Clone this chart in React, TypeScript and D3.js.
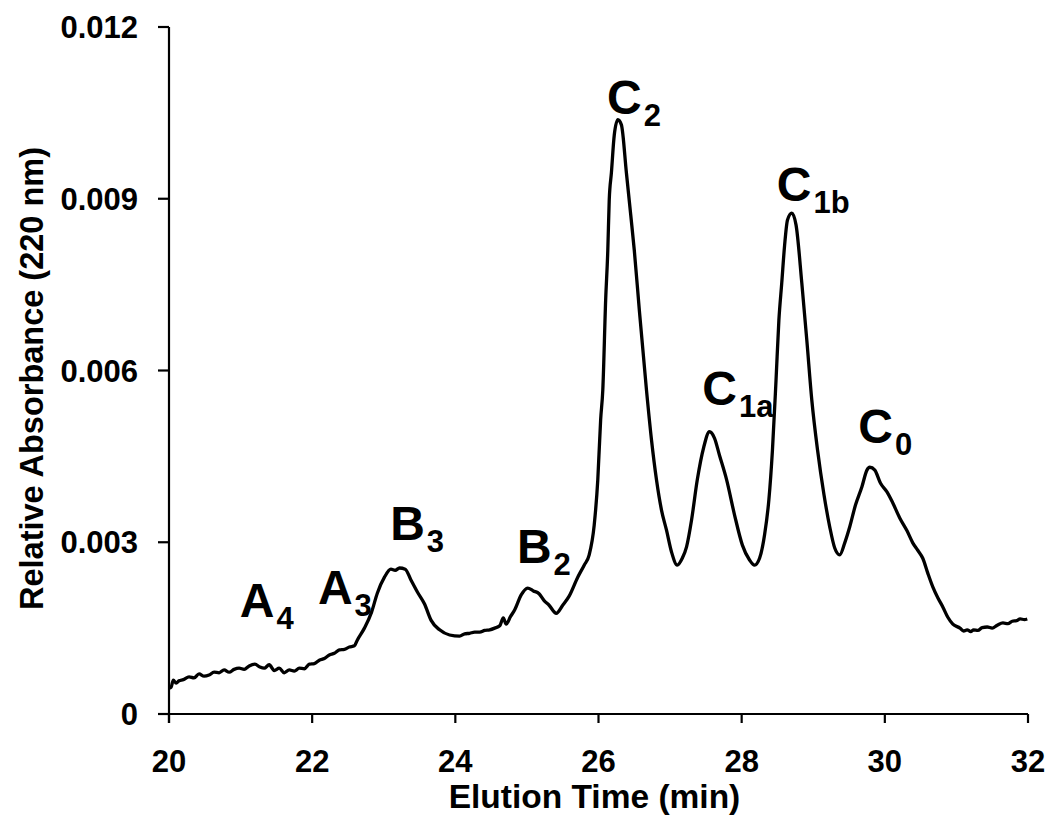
import React from "react";
import * as d3 from "d3";

const elutionTime = [
  20.0, 20.03, 20.06, 20.1, 20.14, 20.2, 20.28, 20.35, 20.42, 20.49, 20.56, 20.63, 20.7, 20.77, 20.84, 20.91,
  20.98, 21.05, 21.12, 21.2, 21.27, 21.33, 21.4, 21.47, 21.54, 21.61, 21.68, 21.75, 21.82, 21.89, 21.96,
  22.03, 22.1, 22.17, 22.24, 22.31, 22.38, 22.45, 22.52, 22.59, 22.63, 22.73, 22.83, 22.91, 23.01, 23.1,
  23.16, 23.22, 23.3, 23.38, 23.47, 23.57, 23.66, 23.78, 23.92, 24.06, 24.13, 24.2, 24.27, 24.34, 24.41,
  24.48, 24.55, 24.62, 24.67, 24.71, 24.77, 24.83, 24.92, 25.01, 25.09, 25.17, 25.24, 25.31, 25.41, 25.5,
  25.59, 25.71, 25.8, 25.87, 25.94, 25.99, 26.03, 26.06, 26.1, 26.13, 26.15, 26.18, 26.22, 26.27, 26.32,
  26.39, 26.45, 26.5, 26.57, 26.67, 26.74, 26.81, 26.88, 26.95, 27.02, 27.1, 27.17, 27.23, 27.3, 27.38,
  27.47, 27.55, 27.62, 27.69, 27.79, 27.9, 28.01, 28.11, 28.18, 28.25, 28.32, 28.38, 28.43, 28.48, 28.52,
  28.56, 28.6, 28.64, 28.7, 28.76, 28.84, 28.91, 28.98, 29.06, 29.15, 29.23, 29.3, 29.37, 29.44, 29.51,
  29.59, 29.68, 29.75, 29.79, 29.86, 29.94, 30.03, 30.11, 30.21, 30.31, 30.39, 30.46, 30.53, 30.6, 30.67,
  30.74, 30.81, 30.88, 30.95, 31.05, 31.1, 31.15, 31.2, 31.24, 31.3, 31.36, 31.43, 31.5, 31.57, 31.65,
  31.72, 31.78, 31.84, 31.89, 31.95, 31.99,
];

const absorbance = [
  0.00045, 0.00047, 0.00059, 0.00054, 0.00058, 0.0006, 0.00065, 0.00063, 0.0007, 0.00066, 0.00068, 0.00073, 0.00072, 0.00077, 0.00073, 0.00078,
  0.0008, 0.00078, 0.00084, 0.00087, 0.00082, 0.0008, 0.00086, 0.00076, 0.0008, 0.00072, 0.00077, 0.00075, 0.0008, 0.00079, 0.00087,
  0.00088, 0.00094, 0.00097, 0.00103, 0.00106, 0.00112, 0.00113, 0.00117, 0.00119, 0.00129, 0.0015, 0.00178, 0.00211, 0.00239, 0.00253,
  0.00251, 0.00255, 0.00253, 0.00234, 0.00213, 0.00192, 0.00164, 0.00147, 0.00138, 0.00136, 0.0014, 0.00141, 0.00143, 0.00143, 0.00146,
  0.00147, 0.0015, 0.00154, 0.00168, 0.00157, 0.0017, 0.00182, 0.00208, 0.0022, 0.00215, 0.0021, 0.00198, 0.0019, 0.00176, 0.0019,
  0.00206, 0.00239, 0.0026, 0.00278, 0.0033, 0.00409, 0.00514, 0.00566, 0.00723, 0.0081, 0.00898, 0.00945, 0.01011, 0.01038, 0.01029,
  0.00945, 0.00872, 0.0081, 0.00706, 0.00566, 0.00479, 0.00409, 0.00356, 0.00321, 0.00283, 0.0026, 0.00272, 0.00292, 0.00339, 0.00409,
  0.00466, 0.00493, 0.00482, 0.00452, 0.00409, 0.00348, 0.00295, 0.00269, 0.0026, 0.00272, 0.00313, 0.00374, 0.00461, 0.00583, 0.00688,
  0.00753, 0.00819, 0.00863, 0.00875, 0.00854, 0.00753, 0.00653, 0.00548, 0.00461, 0.00383, 0.00327, 0.0029, 0.00278, 0.00299, 0.00327,
  0.00365, 0.00397, 0.00426, 0.00431, 0.00426, 0.00403, 0.00388, 0.00369, 0.00342, 0.0032, 0.00299, 0.00286, 0.00272, 0.00246, 0.00222,
  0.00203, 0.00187, 0.00169, 0.00157, 0.0015, 0.00145, 0.00147, 0.00144, 0.00147, 0.00146, 0.00151, 0.00152, 0.0015, 0.00155, 0.00159,
  0.00158, 0.00162, 0.00163, 0.00166, 0.00165, 0.00166,
];

const xTicks = [20, 22, 24, 26, 28, 30, 32];
const yTicks = [0, 0.003, 0.006, 0.009, 0.012];
const yTickLabels = ["0", "0.003", "0.006", "0.009", "0.012"];

const peakLetters = ["A", "A", "B", "B", "C", "C", "C", "C"];
const peakSubs = ["4", "3", "3", "2", "2", "1a", "1b", "0"];
const peakLabelTime = [20.99, 22.08, 23.09, 24.86, 26.12, 27.45, 28.49, 29.63];
const peakLabelAbs = [0.00169, 0.00192, 0.00304, 0.00264, 0.01048, 0.0054, 0.00896, 0.00473];

const xTitle = "Elution Time (min)";
const yTitle = "Relative Absorbance (220 nm)";

const FONT = "'Liberation Sans', Arial, Helvetica, sans-serif";

export default function App() {
  const x = d3.scaleLinear().domain([20, 32]).range([169, 1028]);
  const y = d3.scaleLinear().domain([0, 0.012]).range([714, 27]);

  const pts: [number, number][] = elutionTime.map((t, i) => [t, absorbance[i]]);
  const line = d3
    .line<[number, number]>()
    .x((d) => x(d[0]))
    .y((d) => y(d[1]))
    .curve(d3.curveMonotoneX);

  const x0 = x(20);
  const y0 = y(0);

  return (
    <svg
      width={1051}
      height={819}
      style={{ position: "absolute", left: 0, top: 0, background: "#fff" }}
      fontFamily={FONT}
      fontWeight="bold"
    >
      <rect width={1051} height={819} fill="#fff" />
      {/* axes */}
      <line x1={x0} x2={x0} y1={y(0.012)} y2={y0 + 9} stroke="#000" strokeWidth={2.2} />
      <line x1={x0} x2={x(32)} y1={y0} y2={y0} stroke="#000" strokeWidth={2.2} />
      {yTicks.map((v, i) => (
        <g key={"yt" + i}>
          <line x1={x0 - 11} x2={x0} y1={y(v)} y2={y(v)} stroke="#000" strokeWidth={2.2} />
          <text x={138} y={y(v)} dy="0.36em" textAnchor="end" fontSize={31}>
            {yTickLabels[i]}
          </text>
        </g>
      ))}
      {xTicks.map((t, i) => (
        <g key={"xt" + i}>
          <line x1={x(t)} x2={x(t)} y1={y0} y2={y0 + 9} stroke="#000" strokeWidth={2.2} />
          <text x={x(t)} y={772} textAnchor="middle" fontSize={31}>
            {t}
          </text>
        </g>
      ))}
      <text x={(x(20) + x(32)) / 2 - 4} y={808} textAnchor="middle" fontSize={33.5}>
        {xTitle}
      </text>
      <text
        transform={`translate(43, ${(y(0) + y(0.012)) / 2 + 8}) rotate(-90)`}
        textAnchor="middle"
        fontSize={32.5}
      >
        {yTitle}
      </text>
      {/* trace */}
      <path d={line(pts) || ""} fill="none" stroke="#000" strokeWidth={3.3} strokeLinejoin="round" />
      {/* peak labels */}
      {peakLetters.map((l, i) => (
        <text key={"pl" + i} x={x(peakLabelTime[i])} y={y(peakLabelAbs[i])} fontSize={48}>
          {l}
          <tspan fontSize={31} dy={12} dx={2}>
            {peakSubs[i]}
          </tspan>
        </text>
      ))}
    </svg>
  );
}
